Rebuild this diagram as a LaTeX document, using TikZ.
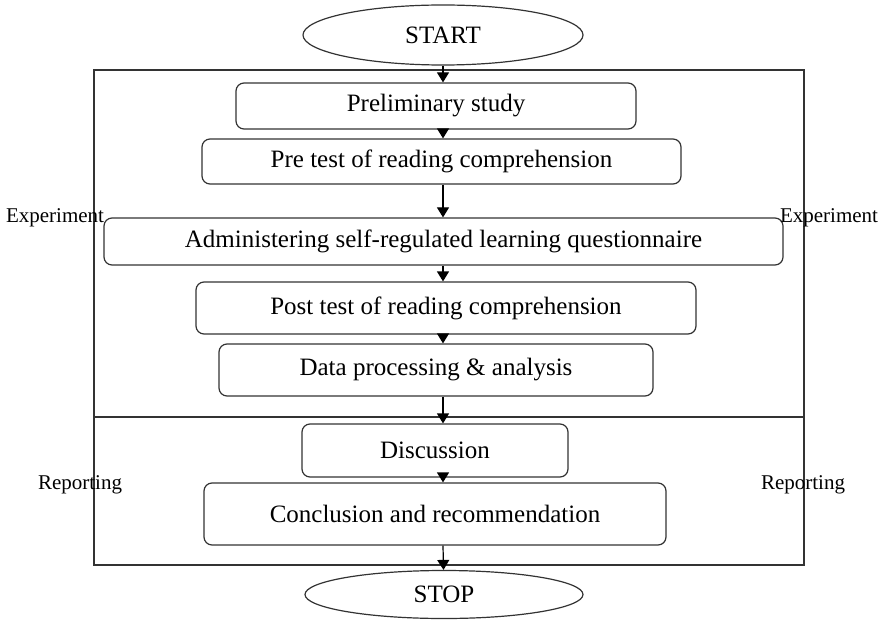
\documentclass[tikz,border=0pt]{standalone}
\usepackage{fontspec}
\setmainfont{Liberation Serif}
\usetikzlibrary{positioning, shapes.geometric, arrows.meta}

\begin{document}
\begin{tikzpicture}[
        x=0.5pt, y=-0.5pt,
        font=\fontsize{12.5}{14}\selectfont,
        terminal/.style={ellipse, draw=black!80, semithick, inner sep=0pt, align=center},
        process/.style={rectangle, draw=black!80, semithick, rounded corners=4pt, align=center},
        phase/.style={font=\fontsize{10.5}{12}\selectfont},
        arrow/.style={-{Triangle[length=5pt, width=6pt]}, semithick}
    ]
    \useasboundingbox (0,0) rectangle (882,620);

    % Frame
    \draw[semithick, black!80] (94,70) rectangle (804,565);
    \draw[semithick, black!80] (94,417) -- (804,417);

    % Nodes
    \node (start) [terminal, minimum width=140pt, minimum height=30pt] at (443,35) {START};
    \node (prelim) [process, minimum width=200pt, minimum height=23pt] at (436,106) {Preliminary study};
    \node (pretest) [process, minimum width=239.5pt, minimum height=22.5pt] at (441.5,161.5) {Pre test of reading comprehension};
    \node (admin) [process, minimum width=339.5pt, minimum height=23.5pt] at (443.5,241.5) {Administering self-regulated learning questionnaire};
    \node (posttest) [process, minimum width=250pt, minimum height=26pt] at (446,308) {Post test of reading comprehension};
    \node (analysis) [process, minimum width=217pt, minimum height=26pt] at (436,370) {Data processing \& analysis};
    \node (discussion) [process, minimum width=133pt, minimum height=26.5pt] at (435,450.5) {Discussion};
    \node (conclusion) [process, minimum width=231pt, minimum height=31pt] at (435,514) {Conclusion and recommendation};
    \node (stop) [terminal, minimum width=139pt, minimum height=24pt] at (444,594.5) {STOP};

    % Phase labels
    \node (exp_left) [phase] at (55,218) {Experiment};
    \node (exp_right) [phase] at (829,218) {Experiment};
    \node (rep_left) [phase] at (80,485) {Reporting};
    \node (rep_right) [phase] at (803,485) {Reporting};

    % Arrows
    \draw [arrow] (start) -- (start |- prelim.north);
    \draw [arrow] (prelim.south -| start) -- (pretest.north -| start);
    \draw [arrow] (pretest.south -| start) -- (admin.north -| start);
    \draw [arrow] (admin.south -| start) -- (posttest.north -| start);
    \draw [arrow] (posttest.south -| start) -- (analysis.north -| start);
    \draw [arrow] (analysis.south -| start) -- (discussion.north -| start);
    \draw [arrow] (discussion.south -| start) -- (conclusion.north -| start);
    \draw [arrow] (conclusion.south -| start) -- (stop);

\end{tikzpicture}
\end{document}
